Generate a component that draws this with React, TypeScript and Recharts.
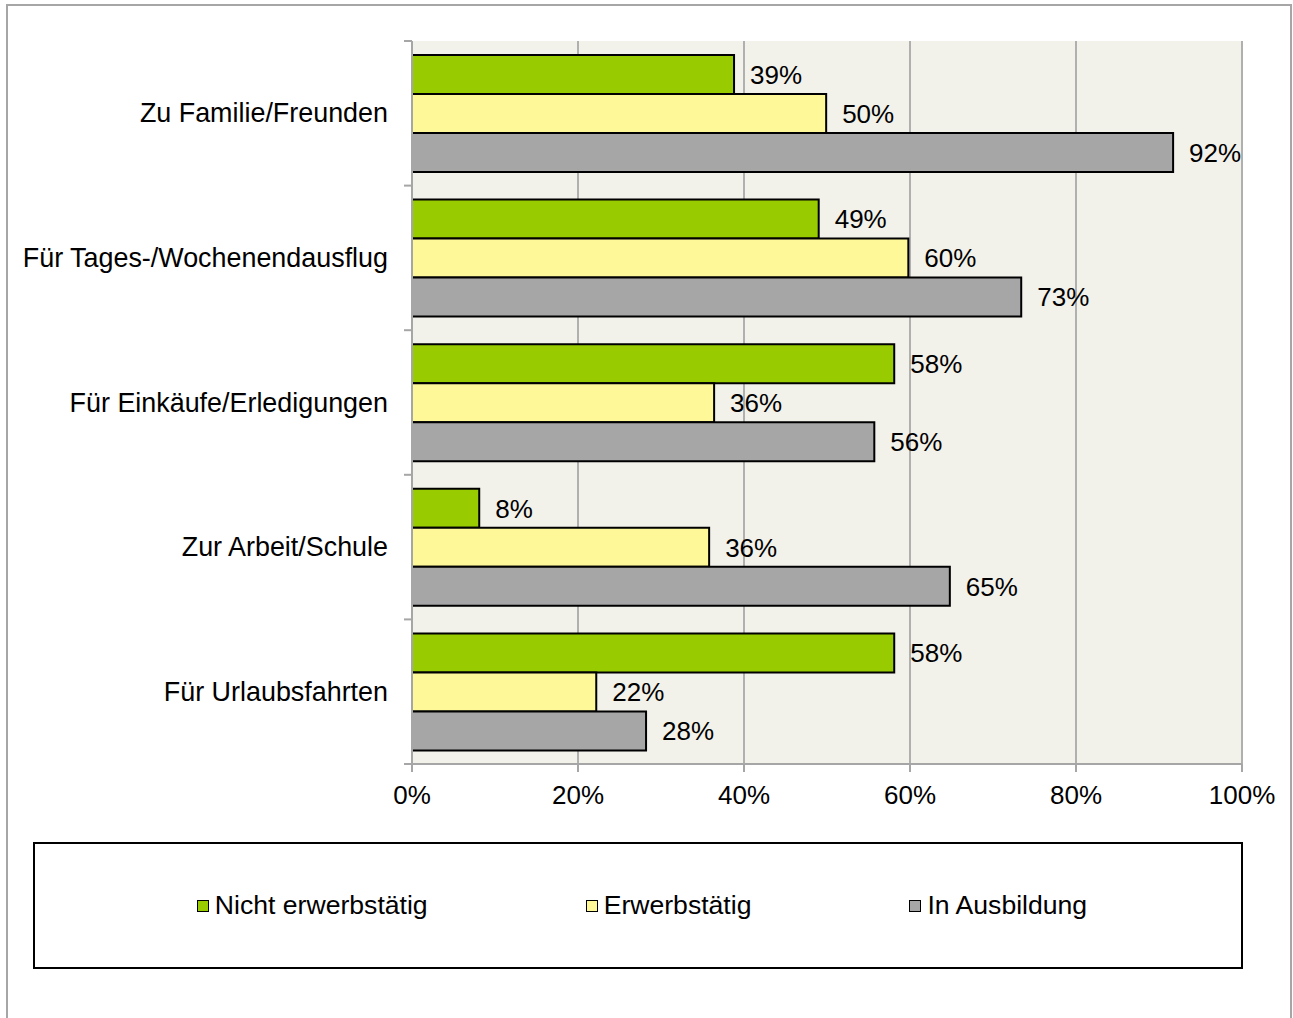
import { BarChart, Bar, XAxis, YAxis, CartesianGrid, LabelList } from 'recharts'

const categories = [
  'Zu Familie/Freunden',
  'Für Tages-/Wochenendausflug',
  'Für Einkäufe/Erledigungen',
  'Zur Arbeit/Schule',
  'Für Urlaubsfahrten',
]
const nichtErwerbstaetig = [38.8, 49.0, 58.1, 8.1, 58.1]
const erwerbstaetig = [49.9, 59.8, 36.4, 35.8, 22.2]
const inAusbildung = [91.7, 73.4, 55.7, 64.8, 28.2]
const xTicks = [0, 20, 40, 60, 80, 100]

const series = [
  { key: 'nicht', name: 'Nicht erwerbstätig', color: '#99cc00' },
  { key: 'erw', name: 'Erwerbstätig', color: '#fff899' },
  { key: 'ausb', name: 'In Ausbildung', color: '#a6a6a6' },
]

const data = categories.map((name, i) => ({
  name,
  nicht: nichtErwerbstaetig[i],
  erw: erwerbstaetig[i],
  ausb: inAusbildung[i],
}))

const FONT = '"Liberation Sans", Arial, sans-serif'
const PLOT_TOP = 41
const PLOT_BOTTOM = 764
const BAND = (PLOT_BOTTOM - PLOT_TOP) / categories.length

function CategoryTick(props: any) {
  const { x, y, payload, index } = props
  return (
    <g>
      <text x={x} y={y} textAnchor="end" dominantBaseline="central" fontSize={26.9} fontFamily={FONT} fill="#000">
        {payload.value}
      </text>
      <line x1={x + 16} x2={x + 24} y1={y - BAND / 2} y2={y - BAND / 2} stroke="#a6a6a6" strokeWidth={2} />
      {index === categories.length - 1 && (
        <line x1={x + 16} x2={x + 24} y1={y + BAND / 2} y2={y + BAND / 2} stroke="#a6a6a6" strokeWidth={2} />
      )}
    </g>
  )
}

const pct = (v: any) => `${Math.round(Number(v))}%`

export default function App() {
  return (
    <div style={{ position: 'absolute', left: 0, top: 0, width: 1293, height: 1018, overflow: 'hidden', background: '#fff', fontFamily: FONT }}>
      {/* outer frame */}
      <div style={{ position: 'absolute', left: 6, top: 4, width: 1286, height: 1040, border: '2px solid #a6a6a6', boxSizing: 'border-box' }} />

      <div style={{ position: 'absolute', left: 0, top: 0 }}>
        <BarChart
          width={1293}
          height={830}
          data={data}
          layout="vertical"
          margin={{ top: PLOT_TOP, right: 51, left: 0, bottom: 0 }}
          barCategoryGap={14}
          barGap={0}
        >
          <CartesianGrid horizontal={false} stroke="#b0b0b0" strokeWidth={2} fill="#f2f1ea" />
          <XAxis
            type="number"
            domain={[0, 100]}
            ticks={xTicks}
            tickFormatter={(v) => `${v}%`}
            height={66}
            tickSize={8}
            tickMargin={14}
            axisLine={{ stroke: '#a6a6a6', strokeWidth: 2 }}
            tickLine={{ stroke: '#a6a6a6', strokeWidth: 2 }}
            tick={{ fontSize: 26, fill: '#000', fontFamily: FONT }}
            interval={0}
          />
          <YAxis
            type="category"
            dataKey="name"
            width={412}
            tickSize={8}
            tickMargin={16}
            tickLine={false}
            axisLine={{ stroke: '#a6a6a6', strokeWidth: 2 }}
            tick={<CategoryTick />}
            interval={0}
          />
          {series.map((s) => (
            <Bar key={s.key} dataKey={s.key} name={s.name} fill={s.color} stroke="#000" strokeWidth={2} isAnimationActive={false}>
              <LabelList
                dataKey={s.key}
                position="right"
                offset={16}
                formatter={pct}
                style={{ fontSize: 26, fill: '#000', fontFamily: FONT }}
              />
            </Bar>
          ))}
        </BarChart>
      </div>

      {/* legend */}
      <div
        style={{
          position: 'absolute',
          left: 33,
          top: 842,
          width: 1210,
          height: 127,
          border: '2px solid #000',
          boxSizing: 'border-box',
          display: 'flex',
          alignItems: 'center',
          justifyContent: 'center',
          gap: 158,
          paddingLeft: 8,
        }}
      >
        {series.map((s) => (
          <div key={s.key} style={{ display: 'flex', alignItems: 'center', gap: 6, fontSize: 26.6, color: '#000' }}>
            <span style={{ width: 10, height: 10, background: s.color, border: '1.5px solid #000', display: 'inline-block' }} />
            <span>{s.name}</span>
          </div>
        ))}
      </div>
    </div>
  )
}
